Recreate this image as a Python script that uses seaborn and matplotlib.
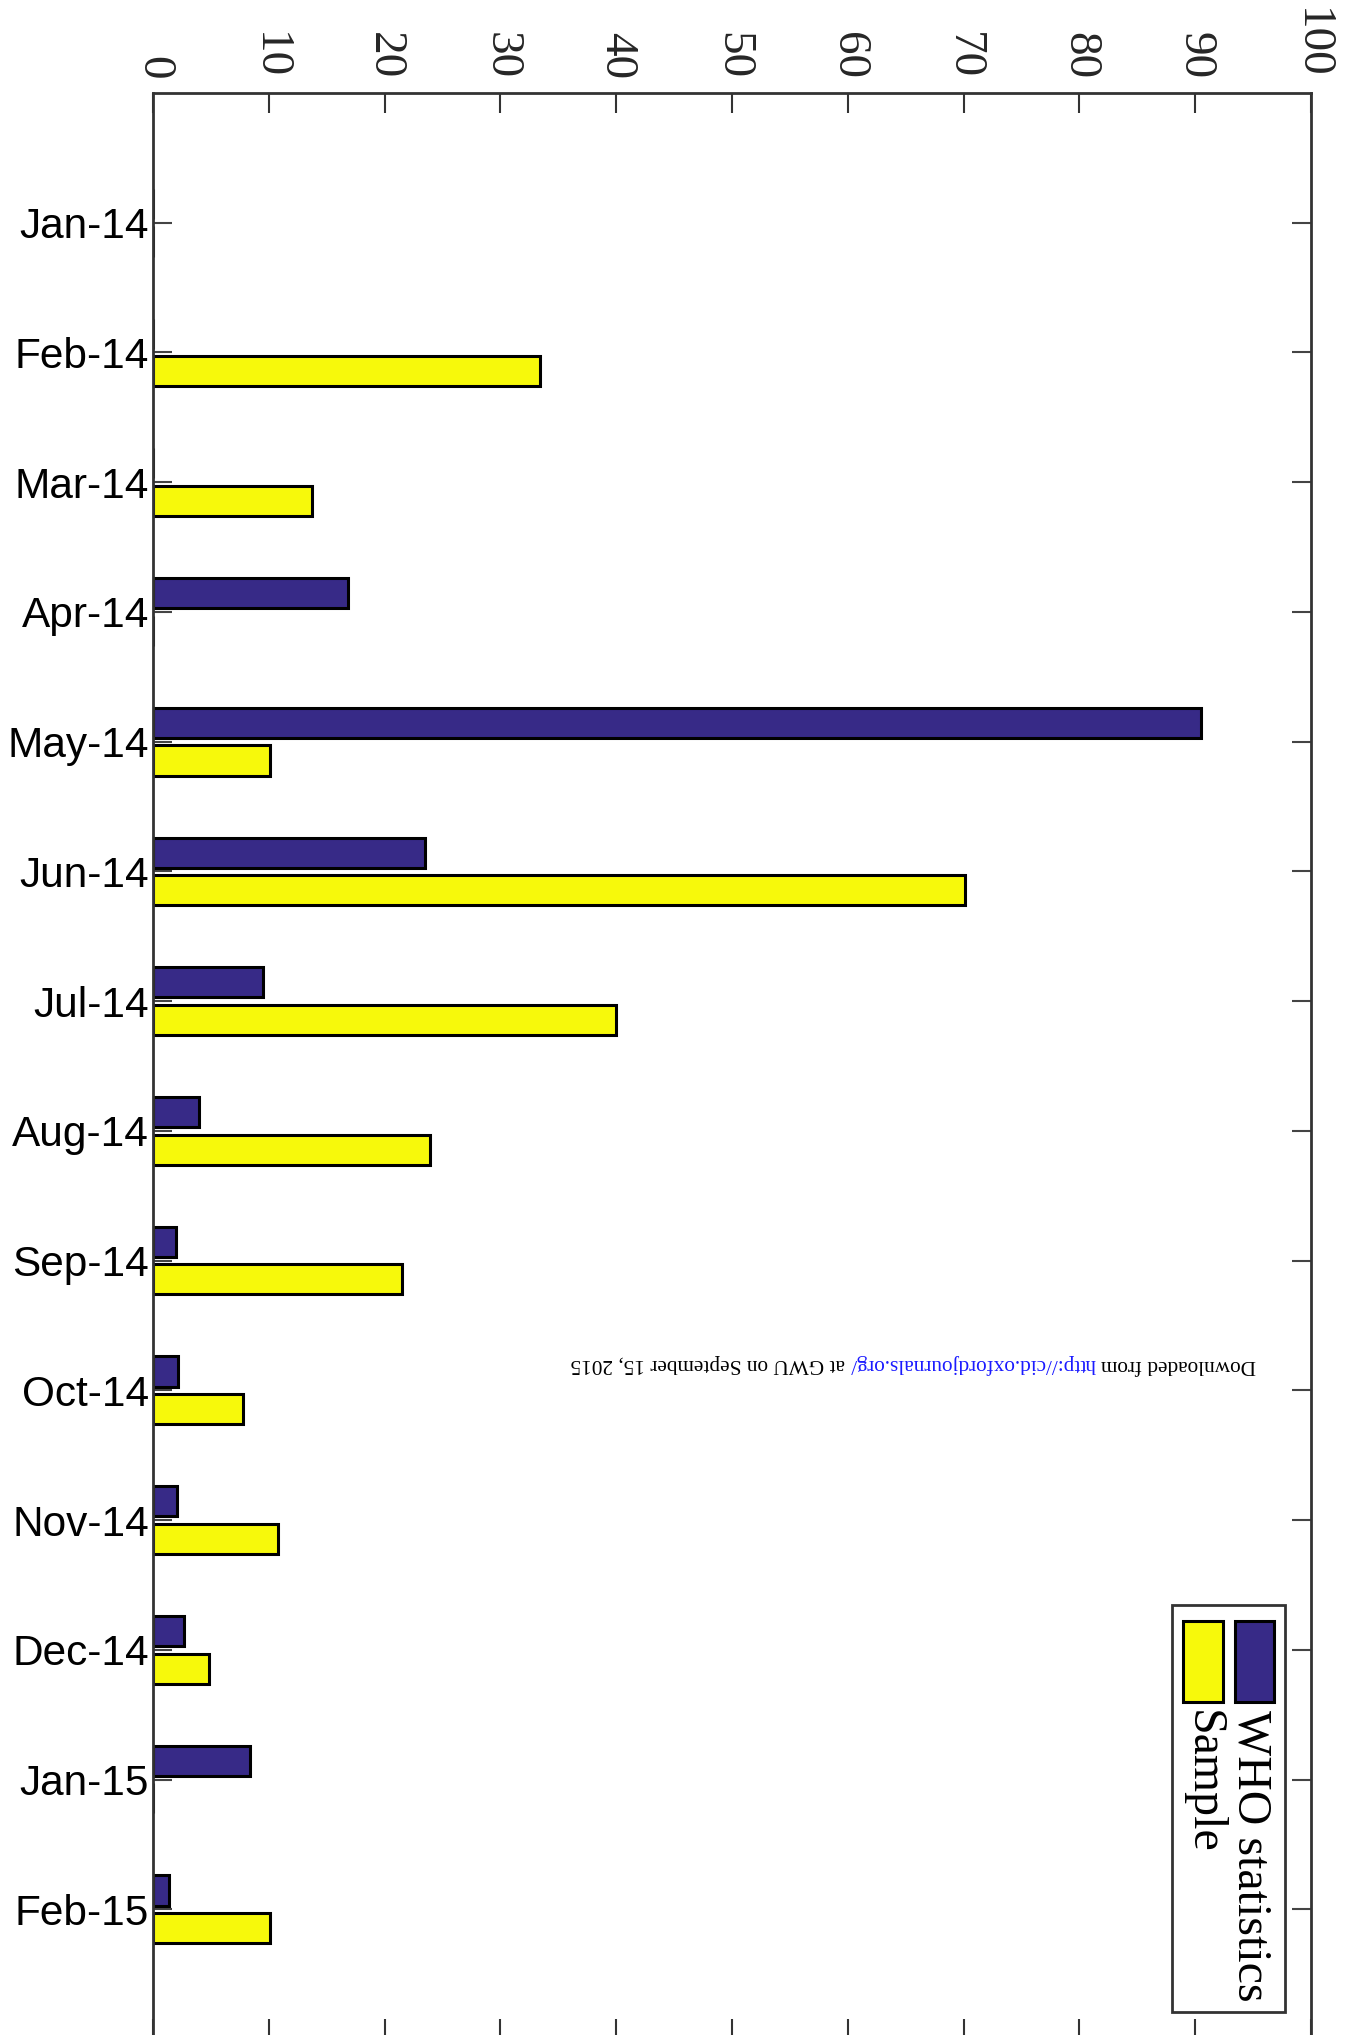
import numpy as np
import pandas as pd
import matplotlib
matplotlib.use("Agg")
import matplotlib.pyplot as plt
import seaborn as sns
from matplotlib.patches import Rectangle

# ---------------- data ----------------
months = ["Jan-14", "Feb-14", "Mar-14", "Apr-14", "May-14", "Jun-14", "Jul-14",
          "Aug-14", "Sep-14", "Oct-14", "Nov-14", "Dec-14", "Jan-15", "Feb-15"]
who_values = [0, 0, 0, 16.8, 90.5, 23.5, 9.5, 4.0, 2.0, 2.2, 2.1, 2.7, 8.4, 1.4]
sample_values = [0, 33.4, 13.7, 0, 10.1, 70.1, 40.0, 23.9, 21.5, 7.8, 10.8, 4.8, 0, 10.1]
series_names = ["WHO statistics", "Sample"]
x_ticks = [0, 10, 20, 30, 40, 50, 60, 70, 80, 90, 100]
note_parts = ["Downloaded from", "http://cid.oxfordjournals.org/", "at GWU on September 15, 2015"]

# ---------------- style ----------------
who_color = "#372a87"
sample_color = "#f7f90b"
sns.set_theme(style="white")
plt.rcParams["font.family"] = ["Liberation Sans", "DejaVu Sans"]

W, H = 1350, 2035
fig = plt.figure(figsize=(W / 100, H / 100), dpi=100)
fig.patch.set_facecolor("white")

ax = fig.add_axes([153 / W, 1 - 2039 / H, (1311 - 153) / W, (2039 - 93) / H])

df = pd.DataFrame({
    "month": months * 2,
    "value": who_values + sample_values,
    "series": [series_names[0]] * len(months) + [series_names[1]] * len(months),
})

sns.barplot(data=df, x="value", y="month", hue="series", order=months,
            hue_order=series_names, orient="h",
            palette=[who_color, sample_color], saturation=1,
            width=0.58, gap=0.2, edgecolor="black", linewidth=2.2,
            errorbar=None, legend=False, ax=ax)

ax.set_xlim(0, 100)
ax.set_ylim(14, -1)
ax.set_xticks(x_ticks)
ax.set_xticklabels([str(v) for v in x_ticks])
ax.xaxis.tick_top()
ax.tick_params(axis="x", which="major", top=True, bottom=True, labeltop=True,
               labelbottom=False, direction="in", length=14.4, width=1.5,
               color="#333333", pad=10, labelsize=34, labelrotation=-90)
for lab in ax.get_xticklabels():
    lab.set_fontfamily(["Liberation Serif", "DejaVu Serif"])
ax.tick_params(axis="y", left=True, right=True, direction="in", length=14,
               width=1.5, color="#444444", pad=3, labelsize=30.5)
for lab in ax.get_yticklabels():
    lab.set_color("black")
ax.set_xlabel("")
ax.set_ylabel("")
ax.grid(False)
for s in ax.spines.values():
    s.set_visible(True)
    s.set_color("#333333")
    s.set_linewidth(2)

# ---------------- rotated legend ----------------
def fr(x0, y0, x1, y1):
    return (x0 / W, 1 - y1 / H), (x1 - x0) / W, (y1 - y0) / H

xy, w, h = fr(1172, 1605, 1285, 2012)
fig.add_artist(Rectangle(xy, w, h, transform=fig.transFigure, facecolor="white",
                         edgecolor="#333333", linewidth=2, zorder=5))
xy, w, h = fr(1235, 1621, 1274, 1702)
fig.add_artist(Rectangle(xy, w, h, transform=fig.transFigure, facecolor=who_color,
                         edgecolor="black", linewidth=2.2, zorder=6))
xy, w, h = fr(1183, 1621, 1223, 1702)
fig.add_artist(Rectangle(xy, w, h, transform=fig.transFigure, facecolor=sample_color,
                         edgecolor="black", linewidth=2.2, zorder=6))
fig.text(1251 / W, 1 - 1710 / H, series_names[0], rotation=-90, ha="center", va="top",
         fontsize=34.5, family=["Liberation Serif", "DejaVu Serif"], color="black", zorder=7)
fig.text(1203 / W, 1 - 1710 / H, series_names[1], rotation=-90, ha="center", va="top",
         fontsize=34.5, family=["Liberation Serif", "DejaVu Serif"], color="black", zorder=7)

# ---------------- upside-down download note ----------------
renderer = fig.canvas.get_renderer()
x_right = 1256.0
y_pos = H - 1364.0
colors = ["black", "#1a1aff", "black"]
for part, col in zip(note_parts, colors):
    t = fig.text(x_right / W, y_pos / H, part, rotation=180, ha="right", va="center",
                 fontsize=15.3, family=["Liberation Serif", "DejaVu Serif"], color=col,
                 zorder=7)
    bb = t.get_window_extent(renderer)
    x_right = bb.x0 - 5.3

fig.savefig("out.png", dpi=100, facecolor="white")
